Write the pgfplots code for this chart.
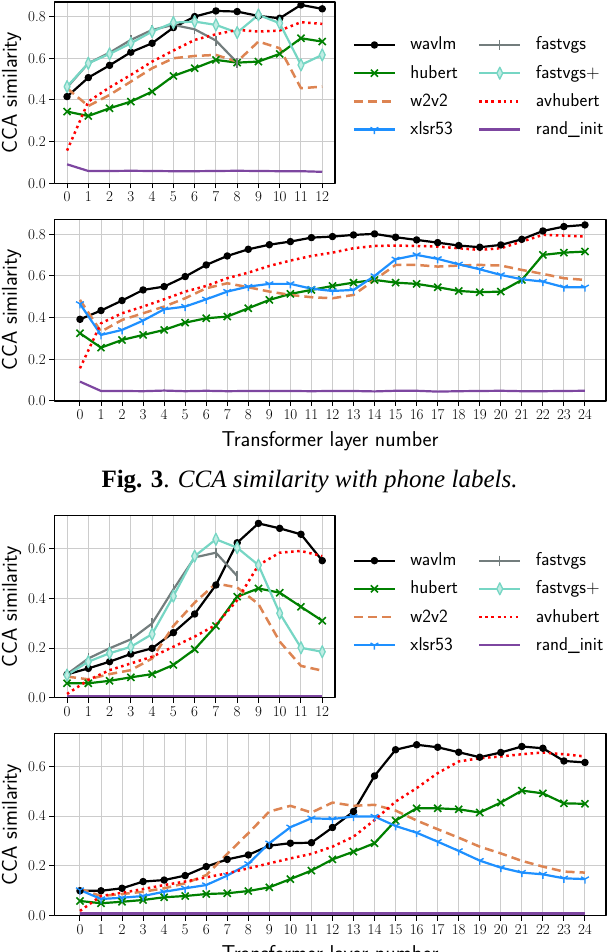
\documentclass[border=0pt]{standalone}
\usepackage{fontspec}
\usepackage{pgfplots}
\pgfplotsset{compat=1.18}
\usetikzlibrary{plotmarks}
\newfontfamily\timesfont{Liberation Serif}
\definecolor{cwav}{RGB}{0,0,0}
\definecolor{chub}{RGB}{0,128,0}
\definecolor{cw2v}{RGB}{221,132,82}
\definecolor{cxls}{RGB}{30,144,255}
\definecolor{cfvg}{RGB}{115,125,125}
\definecolor{cfvp}{RGB}{118,214,196}
\definecolor{cavh}{RGB}{255,0,0}
\definecolor{crnd}{RGB}{125,70,160}
\pgfplotsset{
  myaxis/.style={
    scale only axis, anchor=south west, ymin=0,
    axis line style={line width=1.1pt},
    grid=major, major grid style={line width=1pt, color=black!20},
    tick style={line width=1pt, black},
    major tick length=5pt, tick align=outside, tickpos=left,
    /pgf/number format/assume math mode=true,
    ticklabel style={font=\fontsize{15}{15}\selectfont},
    yticklabel style={/pgf/number format/fixed, /pgf/number format/fixed zerofill, /pgf/number format/precision=1},
    label style={font=\sffamily\fontsize{21.5}{21.5}\selectfont},
    ylabel={CCA similarity},
    xlabel style={at={(axis description cs:0.5,0)}, anchor=north, yshift=-30pt, inner sep=0pt},
    line join=round,
  },
  narrowlab/.style={ylabel style={at={(axis description cs:-0.1874,0.5)}, anchor=north, inner sep=0pt}},
  widelab/.style={ylabel style={at={(axis description cs:-0.09534,0.5)}, anchor=north, inner sep=0pt}},
  mylegend/.style={
    legend columns=2,
    legend cell align=left,
    legend style={draw=none, fill=none, anchor=north west, inner sep=0pt, outer sep=0pt,
      font=\sffamily\fontsize{18.6}{18.6}\selectfont, row sep=12.2pt,
      nodes={inner sep=0pt, text height=13pt, text depth=3pt},
      /tikz/every odd column/.append style={column sep=14.3pt},
      /tikz/every even column/.append style={column sep=20pt}},
    legend image code/.code={\draw[mark repeat=2,mark phase=2,##1] plot coordinates {(0pt,0pt) (20.5pt,0pt) (41pt,0pt)};},
  },
  swav/.style={color=cwav, line width=2.2pt, mark=*, mark size=2.6pt, mark options={solid}},
  shub/.style={color=chub, line width=2.2pt, mark=x, mark size=5pt, mark options={solid, line width=1.6pt}},
  sw2v/.style={color=cw2v, line width=2.5pt, dash pattern=on 9pt off 5pt, no markers},
  sxls/.style={color=cxls, line width=2.2pt, mark=Mercedes star flipped, mark size=4.5pt, mark options={solid, line width=1.4pt}},
  sfvg/.style={color=cfvg, line width=2.2pt, mark=|, mark size=5pt, mark options={solid, line width=1.4pt}},
  sfvp/.style={color=cfvp, line width=2.2pt, mark=diamond*, mark size=6pt, mark options={solid, xscale=0.65, fill=cfvp!45!white, draw=cfvp, line width=1.3pt}},
  savh/.style={color=cavh, line width=2.5pt, dash pattern=on 2.5pt off 3.6pt, no markers},
  srnd/.style={color=crnd, line width=2.2pt, no markers},
}
\begin{document}
\begin{tikzpicture}[x=1pt,y=1pt]
\useasboundingbox (0,0) rectangle (612,952);
\clip (0,0) rectangle (612,952);

% ---------- Axis 1: phone, small models ----------
\begin{axis}[myaxis, narrowlab, mylegend, at={(54.3pt,768.7pt)}, width=280.7pt, height=181.3pt,
  xmin=-0.6, xmax=12.6, ymax=0.87, xtick={0,...,12}, ytick={0,0.2,0.4,0.6,0.8},
  legend style={at={(axis description cs:1.063,0.807)}}]
\addlegendimage{swav}\addlegendentry{wavlm}
\addlegendimage{sfvg}\addlegendentry{fastvgs}
\addlegendimage{shub}\addlegendentry{hubert}
\addlegendimage{sfvp}\addlegendentry{fastvgs+}
\addlegendimage{sw2v}\addlegendentry{w2v2}
\addlegendimage{savh}\addlegendentry{avhubert}
\addlegendimage{sxls}\addlegendentry{xlsr53}
\addlegendimage{srnd}\addlegendentry{rand\_init}
\addplot[swav, forget plot] coordinates {(0,0.416) (1,0.507) (2,0.566) (3,0.629) (4,0.672) (5,0.747) (6,0.800) (7,0.827) (8,0.824) (9,0.803) (10,0.792) (11,0.856) (12,0.837)};
\addplot[shub, forget plot] coordinates {(0,0.344) (1,0.323) (2,0.360) (3,0.392) (4,0.440) (5,0.515) (6,0.552) (7,0.592) (8,0.579) (9,0.584) (10,0.621) (11,0.696) (12,0.680)};
\addplot[sw2v, forget plot] coordinates {(0,0.456) (1,0.371) (2,0.424) (3,0.488) (4,0.552) (5,0.600) (6,0.611) (7,0.616) (8,0.584) (9,0.680) (10,0.648) (11,0.456) (12,0.464)};
\addplot[sfvg, forget plot] coordinates {(0,0.460) (1,0.576) (2,0.627) (3,0.688) (4,0.736) (5,0.760) (6,0.739) (7,0.685) (8,0.579)};
\addplot[sfvp, forget plot] coordinates {(0,0.464) (1,0.576) (2,0.621) (3,0.672) (4,0.728) (5,0.771) (6,0.776) (7,0.760) (8,0.723) (9,0.808) (10,0.768) (11,0.568) (12,0.616)};
\addplot[savh, forget plot] coordinates {(0,0.157) (1,0.392) (2,0.460) (3,0.520) (4,0.584) (5,0.637) (6,0.688) (7,0.715) (8,0.736) (9,0.728) (10,0.733) (11,0.773) (12,0.765)};
\addplot[srnd, forget plot] coordinates {(0,0.091) (1,0.059) (2,0.059) (3,0.060) (4,0.059) (5,0.058) (6,0.058) (7,0.059) (8,0.060) (9,0.059) (10,0.058) (11,0.058) (12,0.055)};
\end{axis}

% ---------- Axis 2: phone, large models ----------
\begin{axis}[myaxis, widelab, at={(54.3pt,551pt)}, width=551.7pt, height=181.7pt,
  xmin=-1.22, xmax=25, ymax=0.872, xtick={0,...,24}, ytick={0,0.2,0.4,0.6,0.8},
  xlabel={Transformer layer number}]
\addplot[swav] coordinates {(0,0.392) (1,0.434) (2,0.482) (3,0.533) (4,0.549) (5,0.597) (6,0.653) (7,0.696) (8,0.728) (9,0.750) (10,0.765) (11,0.784) (12,0.789) (13,0.797) (14,0.802) (15,0.786) (16,0.773) (17,0.760) (18,0.746) (19,0.738) (20,0.749) (21,0.776) (22,0.816) (23,0.837) (24,0.845)};
\addplot[shub] coordinates {(0,0.325) (1,0.256) (2,0.293) (3,0.317) (4,0.341) (5,0.376) (6,0.397) (7,0.405) (8,0.445) (9,0.485) (10,0.514) (11,0.533) (12,0.552) (13,0.568) (14,0.581) (15,0.568) (16,0.562) (17,0.546) (18,0.528) (19,0.522) (20,0.525) (21,0.581) (22,0.701) (23,0.712) (24,0.717)};
\addplot[sw2v] coordinates {(0,0.485) (1,0.333) (2,0.389) (3,0.421) (4,0.453) (5,0.493) (6,0.541) (7,0.565) (8,0.546) (9,0.525) (10,0.509) (11,0.498) (12,0.493) (13,0.509) (14,0.581) (15,0.653) (16,0.653) (17,0.645) (18,0.650) (19,0.653) (20,0.650) (21,0.629) (22,0.610) (23,0.589) (24,0.581)};
\addplot[sxls] coordinates {(0,0.466) (1,0.317) (2,0.341) (3,0.386) (4,0.440) (5,0.453) (6,0.488) (7,0.525) (8,0.549) (9,0.562) (10,0.562) (11,0.539) (12,0.528) (13,0.533) (14,0.600) (15,0.680) (16,0.701) (17,0.682) (18,0.656) (19,0.632) (20,0.605) (21,0.584) (22,0.573) (23,0.546) (24,0.546)};
\addplot[savh] coordinates {(0,0.157) (1,0.373) (2,0.421) (3,0.453) (4,0.488) (5,0.525) (6,0.552) (7,0.589) (8,0.616) (9,0.648) (10,0.674) (11,0.696) (12,0.712) (13,0.733) (14,0.744) (15,0.746) (16,0.744) (17,0.741) (18,0.733) (19,0.725) (20,0.733) (21,0.765) (22,0.797) (23,0.794) (24,0.789)};
\addplot[srnd] coordinates {(0,0.093) (1,0.048) (2,0.048) (3,0.047) (4,0.050) (5,0.047) (6,0.049) (7,0.047) (8,0.048) (9,0.048) (10,0.048) (11,0.047) (12,0.048) (13,0.048) (14,0.046) (15,0.049) (16,0.049) (17,0.045) (18,0.047) (19,0.048) (20,0.049) (21,0.047) (22,0.047) (23,0.048) (24,0.049)};
\end{axis}

% ---------- Caption ----------
\node[anchor=base, inner sep=0pt] at (309.5,464) {\timesfont\fontsize{25}{25}\selectfont\textbf{Fig. 3}. \textit{CCA similarity with phone labels.}};

% ---------- Axis 3: word, small models ----------
\begin{axis}[myaxis, narrowlab, mylegend, at={(54.3pt,254.3pt)}, width=280.7pt, height=182pt,
  xmin=-0.6, xmax=12.6, ymax=0.733, xtick={0,...,12}, ytick={0,0.2,0.4,0.6},
  legend style={at={(axis description cs:1.063,0.797)}}]
\addlegendimage{swav}\addlegendentry{wavlm}
\addlegendimage{sfvg}\addlegendentry{fastvgs}
\addlegendimage{shub}\addlegendentry{hubert}
\addlegendimage{sfvp}\addlegendentry{fastvgs+}
\addlegendimage{sw2v}\addlegendentry{w2v2}
\addlegendimage{savh}\addlegendentry{avhubert}
\addlegendimage{sxls}\addlegendentry{xlsr53}
\addlegendimage{srnd}\addlegendentry{rand\_init}
\addplot[swav, forget plot] coordinates {(0,0.094) (1,0.118) (2,0.145) (3,0.176) (4,0.199) (5,0.262) (6,0.337) (7,0.454) (8,0.624) (9,0.702) (10,0.682) (11,0.658) (12,0.552)};
\addplot[shub, forget plot] coordinates {(0,0.058) (1,0.058) (2,0.068) (3,0.082) (4,0.095) (5,0.132) (6,0.195) (7,0.289) (8,0.407) (9,0.440) (10,0.423) (11,0.366) (12,0.310)};
\addplot[sw2v, forget plot] coordinates {(0,0.085) (1,0.074) (2,0.095) (3,0.111) (4,0.158) (5,0.289) (6,0.383) (7,0.460) (8,0.444) (9,0.377) (10,0.226) (11,0.128) (12,0.109)};
\addplot[sfvg, forget plot] coordinates {(0,0.095) (1,0.158) (2,0.199) (3,0.235) (4,0.299) (5,0.436) (6,0.565) (7,0.584) (8,0.490)};
\addplot[sfvp, forget plot] coordinates {(0,0.091) (1,0.145) (2,0.179) (3,0.205) (4,0.256) (5,0.409) (6,0.570) (7,0.638) (8,0.604) (9,0.534) (10,0.340) (11,0.201) (12,0.185)};
\addplot[savh, forget plot] coordinates {(0,0.015) (1,0.071) (2,0.111) (3,0.138) (4,0.165) (5,0.205) (6,0.246) (7,0.293) (8,0.393) (9,0.534) (10,0.584) (11,0.591) (12,0.570)};
\addplot[srnd, forget plot] coordinates {(0,0.008) (1,0.008) (2,0.008) (3,0.008) (4,0.008) (5,0.008) (6,0.008) (7,0.008) (8,0.008) (9,0.008) (10,0.008) (11,0.008) (12,0.008)};
\end{axis}

% ---------- Axis 4: word, large models ----------
\begin{axis}[myaxis, widelab, at={(54.3pt,36.3pt)}, width=551.7pt, height=182.4pt,
  xmin=-1.22, xmax=25, ymax=0.732, xtick={0,...,24}, ytick={0,0.2,0.4,0.6},
  xlabel={Transformer layer number}]
\addplot[swav] coordinates {(0,0.100) (1,0.100) (2,0.110) (3,0.137) (4,0.143) (5,0.161) (6,0.197) (7,0.226) (8,0.244) (9,0.281) (10,0.291) (11,0.293) (12,0.354) (13,0.418) (14,0.561) (15,0.666) (16,0.686) (17,0.676) (18,0.656) (19,0.636) (20,0.655) (21,0.679) (22,0.672) (23,0.621) (24,0.615)};
\addplot[shub] coordinates {(0,0.059) (1,0.050) (2,0.056) (3,0.063) (4,0.074) (5,0.079) (6,0.087) (7,0.090) (8,0.099) (9,0.114) (10,0.147) (11,0.181) (12,0.226) (13,0.257) (14,0.291) (15,0.382) (16,0.431) (17,0.431) (18,0.427) (19,0.414) (20,0.454) (21,0.502) (22,0.491) (23,0.451) (24,0.449)};
\addplot[sw2v] coordinates {(0,0.107) (1,0.079) (2,0.087) (3,0.096) (4,0.110) (5,0.130) (6,0.163) (7,0.248) (8,0.331) (9,0.418) (10,0.441) (11,0.414) (12,0.454) (13,0.441) (14,0.445) (15,0.422) (16,0.382) (17,0.347) (18,0.313) (19,0.277) (20,0.250) (21,0.220) (22,0.197) (23,0.177) (24,0.173)};
\addplot[sxls] coordinates {(0,0.103) (1,0.067) (2,0.072) (3,0.079) (4,0.096) (5,0.110) (6,0.123) (7,0.161) (8,0.208) (9,0.291) (10,0.355) (11,0.391) (12,0.388) (13,0.398) (14,0.398) (15,0.360) (16,0.333) (17,0.297) (18,0.260) (19,0.221) (20,0.193) (21,0.173) (22,0.166) (23,0.150) (24,0.147)};
\addplot[savh] coordinates {(0,0.019) (1,0.079) (2,0.092) (3,0.107) (4,0.123) (5,0.137) (6,0.154) (7,0.170) (8,0.190) (9,0.210) (10,0.230) (11,0.248) (12,0.277) (13,0.317) (14,0.384) (15,0.458) (16,0.512) (17,0.572) (18,0.619) (19,0.632) (20,0.639) (21,0.648) (22,0.655) (23,0.648) (24,0.639)};
\addplot[srnd] coordinates {(0,0.009) (1,0.009) (2,0.009) (3,0.009) (4,0.009) (5,0.009) (6,0.009) (7,0.009) (8,0.009) (9,0.009) (10,0.009) (11,0.009) (12,0.009) (13,0.009) (14,0.009) (15,0.009) (16,0.009) (17,0.009) (18,0.009) (19,0.009) (20,0.009) (21,0.009) (22,0.009) (23,0.009) (24,0.009)};
\end{axis}
\end{tikzpicture}
\end{document}
